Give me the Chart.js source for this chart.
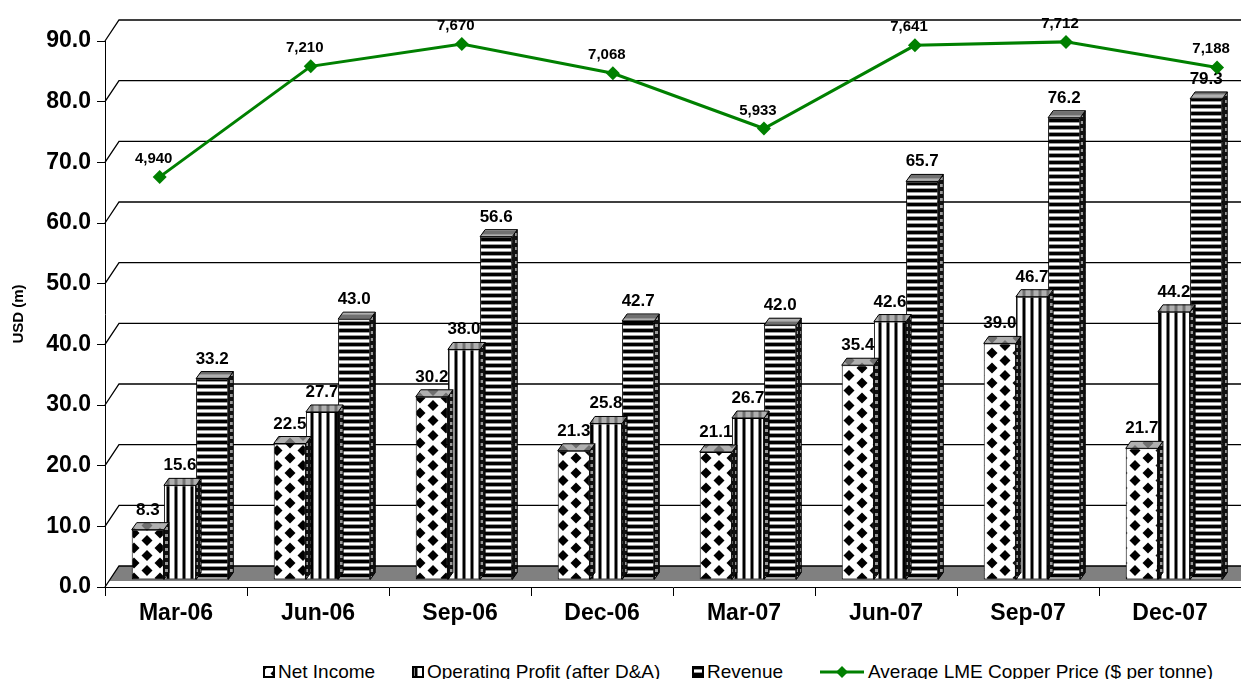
<!DOCTYPE html>
<html>
<head>
<meta charset="utf-8">
<script src="https://cdn.jsdelivr.net/npm/chart.js@4.4.1/dist/chart.umd.min.js"></script>
<style>
  body { margin: 0; background: #fff; overflow: hidden; font-family: Arial, "Liberation Sans", sans-serif; }
  #wrap { position: relative; width: 1241px; height: 679px; }
  #chart { display: block; }
  #lineChart { position: absolute; left: 0; top: 0; }
  .lg { position: absolute; top: 661px; font-size: 19px; line-height: 22px; white-space: nowrap; display: flex; align-items: center; color: #000; }
  .lg canvas { margin-right: 3px; }
</style>
</head>
<body>
<div id="wrap">
  <canvas id="chart" width="1241" height="650"></canvas>
  <canvas id="lineChart" width="1241" height="650"></canvas>
  <div class="lg" style="left:263px"><canvas id="lg0" width="12" height="12"></canvas>Net Income</div>
  <div class="lg" style="left:412px"><canvas id="lg1" width="12" height="12"></canvas>Operating Profit (after D&amp;A)</div>
  <div class="lg" style="left:692px"><canvas id="lg2" width="12" height="12"></canvas>Revenue</div>
  <div class="lg" style="left:820px"><canvas id="lg3" width="44" height="14" style="margin-right:4px"></canvas>Average LME Copper Price ($ per tonne)</div>
</div>
<script>
// données
const periods = ['Mar-06', 'Jun-06', 'Sep-06', 'Dec-06', 'Mar-07', 'Jun-07', 'Sep-07', 'Dec-07'];
const netIncome = [8.3, 22.5, 30.2, 21.3, 21.1, 35.4, 39.0, 21.7];
const operatingProfit = [15.6, 27.7, 38.0, 25.8, 26.7, 42.6, 46.7, 44.2];
const revenue = [33.2, 43.0, 56.6, 42.7, 42.0, 65.7, 76.2, 79.3];
const copperPrice = [4940, 7210, 7670, 7068, 5933, 7641, 7712, 7188];
const seriesNames = ['Net Income', 'Operating Profit (after D&A)', 'Revenue', 'Average LME Copper Price ($ per tonne)'];

Chart.defaults.font.family = 'Arial, "Liberation Sans", sans-serif';

// effet 3D
const WALL_X = 14, WALL_Y = 21;   // décalage du mur du fond
const SHIFT_X = 4, SHIFT_Y = 7;   // position des barres dans la profondeur
const DEPTH_X = 5, DEPTH_Y = 7;   // épaisseur des barres

function tile(w, h, draw) {
    const c = document.createElement('canvas');
    c.width = w; c.height = h;
    draw(c.getContext('2d'));
    return c;
}

const tiles = {
    diamonds: tile(26, 15, g => {
        g.fillStyle = '#fff'; g.fillRect(0, 0, 26, 15);
        g.fillStyle = '#000';
        [[0, 0], [26, 0], [0, 15], [26, 15], [13, 7.5]].forEach(([cx, cy]) => {
            g.beginPath();
            g.moveTo(cx, cy - 5.5); g.lineTo(cx + 5.5, cy); g.lineTo(cx, cy + 5.5); g.lineTo(cx - 5.5, cy);
            g.closePath(); g.fill();
        });
    }),
    vstripes: tile(8, 1, g => {
        g.fillStyle = '#fff'; g.fillRect(0, 0, 8, 1);
        g.fillStyle = '#808080'; g.fillRect(2, 0, 1, 1); g.fillRect(5, 0, 1, 1);
        g.fillStyle = '#000'; g.fillRect(3, 0, 2, 1);
    }),
    hstripes: tile(1, 7, g => {
        g.fillStyle = '#fff'; g.fillRect(0, 0, 1, 7);
        g.fillStyle = '#000'; g.fillRect(0, 0, 1, 3);
        g.fillStyle = '#999'; g.fillRect(0, 3, 1, 1); g.fillRect(0, 6, 1, 1);
    }),
    side: tile(5, 7, g => {
        g.fillStyle = '#111'; g.fillRect(0, 0, 5, 7);
        g.fillStyle = '#999'; g.fillRect(1, 2, 3, 3);
    })
};

const patCtx = document.createElement('canvas').getContext('2d');
const pat = {};
Object.keys(tiles).forEach(k => pat[k] = patCtx.createPattern(tiles[k], 'repeat'));

function drawSwatch(id, kind) {
    const g = document.getElementById(id).getContext('2d');
    g.fillStyle = g.createPattern(tiles[kind], 'repeat');
    g.fillRect(0, 0, 12, 12);
    g.strokeStyle = '#000'; g.lineWidth = 2;
    g.strokeRect(1, 1, 10, 10);
}
drawSwatch('lg0', 'diamonds');
drawSwatch('lg1', 'vstripes');
drawSwatch('lg2', 'hstripes');
(() => {
    const g = document.getElementById('lg3').getContext('2d');
    g.strokeStyle = '#008000'; g.lineWidth = 3;
    g.beginPath(); g.moveTo(0, 7); g.lineTo(44, 7); g.stroke();
    g.fillStyle = '#008000';
    g.beginPath(); g.moveTo(22, 1); g.lineTo(28, 7); g.lineTo(22, 13); g.lineTo(16, 7); g.closePath(); g.fill();
})();

function poly(ctx, pts) {
    ctx.beginPath();
    ctx.moveTo(pts[0][0], pts[0][1]);
    pts.slice(1).forEach(p => ctx.lineTo(p[0], p[1]));
    ctx.closePath();
}

const threeD = {
    id: 'threeD',
    beforeDatasetsDraw(chart) {
        const { ctx, chartArea: a, scales: { y } } = chart;
        ctx.save();
        // sol gris
        poly(ctx, [[a.left + 4, a.bottom - 6], [a.left + WALL_X, a.bottom - WALL_Y], [a.right, a.bottom - WALL_Y], [a.right, a.bottom - 6]]);
        ctx.fillStyle = '#808080';
        ctx.fill();
        // grille du mur du fond
        ctx.strokeStyle = '#000';
        ctx.lineWidth = 1.3;
        y.ticks.forEach(t => {
            const py = y.getPixelForValue(t.value);
            ctx.beginPath();
            ctx.moveTo(a.left, py);
            ctx.lineTo(a.left + WALL_X, py - WALL_Y);
            ctx.lineTo(a.right, py - WALL_Y);
            ctx.stroke();
        });
        ctx.restore();
    },
    beforeDatasetDraw(chart) {
        chart.ctx.save();
        chart.ctx.translate(SHIFT_X, -SHIFT_Y);
    },
    afterDatasetDraw(chart, args) {
        const ctx = chart.ctx;
        const fill = chart.data.datasets[args.index].backgroundColor;
        ctx.lineWidth = 1;
        ctx.strokeStyle = '#000';
        args.meta.data.forEach(el => {
            const l = el.x - el.width / 2, r = el.x + el.width / 2;
            const top = el.y, bot = el.base;
            // face latérale
            poly(ctx, [[r, top], [r + DEPTH_X, top - DEPTH_Y], [r + DEPTH_X, bot - DEPTH_Y], [r, bot]]);
            ctx.fillStyle = pat.side; ctx.fill(); ctx.stroke();
            // dessus
            poly(ctx, [[l, top], [r, top], [r + DEPTH_X, top - DEPTH_Y], [l + DEPTH_X, top - DEPTH_Y]]);
            ctx.fillStyle = fill; ctx.fill();
            ctx.fillStyle = 'rgba(150,150,150,0.75)'; ctx.fill();
            ctx.stroke();
        });
        ctx.restore();
    },
    afterDatasetsDraw(chart) {
        const ctx = chart.ctx;
        ctx.save();
        ctx.fillStyle = '#000';
        ctx.textAlign = 'center';
        ctx.textBaseline = 'alphabetic';
        ctx.font = 'bold 17px Arial, "Liberation Sans", sans-serif';
        chart.data.datasets.forEach((ds, di) => {
            chart.getDatasetMeta(di).data.forEach((el, i) => {
                ctx.fillText(ds.data[i].toFixed(1), el.x + SHIFT_X, el.y - SHIFT_Y - DEPTH_Y - 8);
            });
        });
        ctx.restore();
    }
};

const priceLabels = {
    id: 'priceLabels',
    afterDatasetsDraw(chart) {
        const ctx = chart.ctx;
        ctx.save();
        ctx.fillStyle = '#000';
        ctx.textAlign = 'center';
        ctx.font = 'bold 15px Arial, "Liberation Sans", sans-serif';
        chart.getDatasetMeta(0).data.forEach((el, i) => {
            ctx.fillText(copperPrice[i].toLocaleString('en-US'), el.x - 6, el.y - 14);
        });
        ctx.restore();
    }
};

const barCommon = { borderColor: '#000', borderWidth: 1, borderSkipped: false, clip: false };

// barres (axe de gauche)
new Chart(document.getElementById('chart'), {
    type: 'bar',
    data: {
        labels: periods,
        datasets: [
            { ...barCommon, label: seriesNames[0], data: netIncome, backgroundColor: pat.diamonds },
            { ...barCommon, label: seriesNames[1], data: operatingProfit, backgroundColor: pat.vstripes },
            { ...barCommon, label: seriesNames[2], data: revenue, backgroundColor: pat.hstripes }
        ]
    },
    options: {
        responsive: false,
        animation: false,
        layout: { padding: { top: 41, left: 0, right: 0, bottom: 0 } },
        datasets: { bar: { categoryPercentage: 0.68, barPercentage: 1 } },
        plugins: { legend: { display: false }, tooltip: { enabled: false } },
        scales: {
            x: {
                grid: { offset: true, drawOnChartArea: false, tickLength: 9, color: '#000' },
                border: { color: '#000', width: 1 },
                ticks: { color: '#000', font: { size: 23, weight: 'bold' }, padding: 4, maxRotation: 0 },
                afterFit: s => { s.height = 63; }
            },
            y: {
                min: 0, max: 90,
                ticks: { stepSize: 10, callback: v => v.toFixed(1), color: '#000', font: { size: 23, weight: 'bold' }, padding: 6 },
                grid: { drawOnChartArea: false, tickLength: 8, color: '#000' },
                border: { color: '#000', width: 1 },
                title: { display: true, text: 'USD (m)', color: '#000', font: { size: 15, weight: 'bold' }, padding: { top: 10, bottom: 0 } },
                afterFit: s => { s.width = 105; }
            }
        }
    },
    plugins: [threeD]
});

// prix du cuivre (axe secondaire masqué), superposé
new Chart(document.getElementById('lineChart'), {
    type: 'line',
    data: {
        datasets: [{
            label: seriesNames[3],
            data: copperPrice.map((v, i) => ({ x: i, y: v })),
            clip: false,
            borderColor: '#008000', backgroundColor: '#008000', borderWidth: 3,
            pointStyle: 'rectRot', pointRadius: 7, pointBorderWidth: 0
        }]
    },
    options: {
        responsive: false,
        animation: false,
        layout: { padding: { top: 41, left: 105, right: 0, bottom: 63 } },
        plugins: { legend: { display: false }, tooltip: { enabled: false } },
        scales: {
            x: { type: 'linear', display: false, min: -0.362, max: 7.112 },
            y: { type: 'linear', display: false, min: -3480, max: 7730 }
        }
    },
    plugins: [priceLabels]
});
</script>
</body>
</html>
